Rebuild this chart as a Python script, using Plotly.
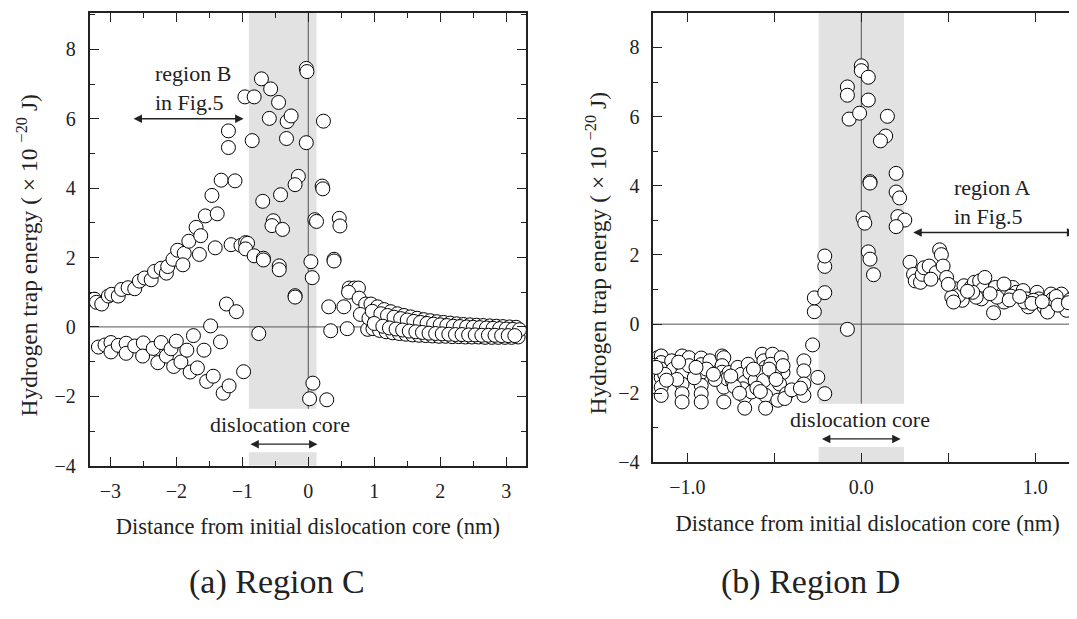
import plotly.graph_objects as go

# ---------------- Region C data (left panel) ----------------
regionC_x = [
    -3.24, -3.21, -3.13, -3.03, -2.98, -2.88, -2.83, -2.73, -2.63, -2.56, -2.48, -2.38,
    -2.33, -2.23, -2.15, -2.13, -2.05, -1.98, -1.88, -1.90, -1.81, -1.70, -1.63, -1.65,
    -1.56, -1.41, -1.38, -1.46, -1.32, -1.11, -1.17, -1.02,
    -1.21, -1.21, -0.96, -0.82, -0.71, -0.57, -0.45, -0.59, -0.32, -0.26, 0.23, -0.85,
    -0.03, -0.33, -0.03, -0.02, -0.15, -0.20, 0.21, 0.22, -0.69, -0.42, -0.53, -0.55,
    -0.39, 0.10, 0.125, 0.47, 0.48, -0.95, -0.92, -0.95, -0.82, -0.68, -0.68, -0.44,
    -0.44, 0.04, 0.06, 0.39, 0.39, -0.20, -0.20, 0.62, 0.70, 0.76, 0.61, 0.77, 0.87,
    -1.24, -1.09, 0.31, 0.54, 0.79,
    -1.48, -0.75, 0.34, 0.59, 0.90, 0.07, 0.02, 0.28, -0.98,
    -3.18, -3.08, -2.99, -2.99, -2.88, -2.76, -2.76, -2.63, -2.50, -2.51, -2.35, -2.23,
    -2.28, -2.15, -2.08, -2.00, -2.04, -1.93, -1.84, -1.74, -1.79, -1.68, -1.58, -1.54,
    -1.44, -1.33, -1.29, -1.20,
    0.95, 1.05, 1.15, 1.25, 1.35, 1.45, 1.55, 1.65, 1.75, 1.85, 1.95, 2.05, 2.15, 2.25,
    2.35, 2.45, 2.55, 2.65, 2.75, 2.85, 2.95, 3.05, 3.15,
    0.92, 1.02, 1.12, 1.22, 1.32, 1.42, 1.52, 1.62, 1.72, 1.82, 1.92, 2.02, 2.12, 2.22,
    2.32, 2.42, 2.52, 2.62, 2.72, 2.82, 2.92, 3.02, 3.12,
    0.98, 1.08, 1.18, 1.28, 1.38, 1.48, 1.58, 1.68, 1.78, 1.88, 1.98, 2.08, 2.18, 2.28,
    2.38, 2.48, 2.58, 2.68, 2.78, 2.88, 2.98, 3.08, 3.18,
    0.97, 1.10, 1.20, 1.30, 1.40, 1.50, 1.60, 1.70, 1.80, 1.90, 2.00, 2.10, 2.20, 2.30,
    2.40, 2.50, 2.60, 2.70, 2.80, 2.90, 3.00, 3.10, 3.20,
    1.00, 1.13, 1.23, 1.33, 1.43, 1.53, 1.63, 1.73, 1.83, 1.93, 2.03, 2.13, 2.23, 2.33,
    2.43, 2.53, 2.63, 2.73, 2.83, 2.93, 3.03, 3.13,
]
regionC_y = [
    0.80, 0.71, 0.66, 0.89, 0.94, 0.89, 1.08, 1.13, 1.10, 1.32, 1.41, 1.36,
    1.60, 1.69, 1.55, 1.74, 1.95, 2.21, 2.12, 1.79, 2.47, 2.87, 2.63, 2.09,
    3.20, 2.28, 3.26, 3.79, 4.23, 4.21, 2.37, 2.35,
    5.65, 5.17, 6.63, 6.63, 7.15, 6.86, 6.47, 6.01, 5.92, 6.08, 5.93, 5.37,
    5.31, 5.43, 7.45, 7.36, 4.34, 4.10, 4.06, 3.98, 3.62, 3.81, 3.06, 2.92,
    2.81, 3.09, 3.04, 3.13, 2.91, 2.43, 2.41, 2.25, 2.05, 1.98, 1.93, 1.76,
    1.65, 1.88, 1.42, 1.95, 1.90, 0.90, 0.86, 1.12, 1.12, 1.12, 1.00, 0.83, 0.66,
    0.66, 0.44, 0.58, 0.58, 0.36,
    0.03, -0.19, -0.11, -0.05, -0.07, -1.62, -2.07, -2.10, -1.29,
    -0.58, -0.52, -0.45, -0.72, -0.53, -0.47, -0.76, -0.55, -0.46, -0.84, -0.62, -0.45,
    -1.03, -0.84, -0.63, -0.41, -1.14, -1.01, -0.67, -0.25, -1.30, -1.18, -0.67, -1.57,
    -1.42, -0.43, -1.91, -1.70,
    0.66, 0.58, 0.50, 0.44, 0.38, 0.33, 0.29, 0.25, 0.21, 0.18, 0.15, 0.13, 0.11, 0.09,
    0.07, 0.06, 0.05, 0.04, 0.03, 0.02, 0.01, 0.00, -0.01,
    0.25, 0.20, 0.15, 0.12, 0.08, 0.05, 0.03, 0.00, -0.02, -0.04, -0.05, -0.07, -0.08, -0.09,
    -0.10, -0.11, -0.12, -0.12, -0.13, -0.14, -0.14, -0.15, -0.15,
    -0.05, -0.10, -0.14, -0.17, -0.19, -0.21, -0.23, -0.24, -0.25, -0.26, -0.27, -0.27, -0.28, -0.28,
    -0.29, -0.29, -0.29, -0.30, -0.30, -0.30, -0.30, -0.30, -0.29,
    0.45, 0.38, 0.33, 0.28, 0.24, 0.20, 0.16, 0.13, 0.10, 0.08, 0.06, 0.04, 0.02, 0.01,
    0.00, -0.01, -0.02, -0.03, -0.04, -0.05, -0.06, -0.07, -0.08,
    0.10, 0.02, -0.03, -0.06, -0.09, -0.12, -0.14, -0.16, -0.18, -0.19, -0.20, -0.21, -0.22, -0.22,
    -0.23, -0.23, -0.24, -0.24, -0.24, -0.25, -0.25, -0.25,
]

# ---------------- Region D data (right panel) ----------------
regionD_x = [
    -1.17, -1.15, -1.15, -1.15, -1.15, -1.15, -1.15, -1.09, -1.08,
    -1.03, -1.03, -1.03, -1.03, -1.03, -1.03, -0.99, -0.99,
    -0.92, -0.92, -0.92, -0.92, -0.92, -0.92, -0.87,
    -0.80, -0.79, -0.80, -0.80, -0.78, -0.79, -0.79, -0.76, -0.77, -0.74,
    -0.71, -0.69, -0.67, -0.68, -0.67, -0.67, -0.65, -0.64, -0.61, -0.63,
    -0.57, -0.56, -0.55, -0.57, -0.56, -0.51, -0.52, -0.55, -0.55,
    -0.46, -0.45, -0.47, -0.48, -0.43, -0.44, -0.33, -0.33, -0.33, -0.33,
    -0.25, -0.28, -0.21,
    -1.13, -1.06, -0.96, -0.89, -0.84, -0.73, -0.60, -0.50, -0.40, -0.53,
    -1.18, -1.12, -1.05, -0.95, -0.85, -0.75, -0.70, -0.62, -0.58, -0.49, -0.45, -0.35,
    -0.27, -0.27, -0.21, -0.21, -0.21, -0.08,
    0.00, 0.00, 0.04, -0.08, -0.08, 0.04, -0.07, -0.01, 0.15, 0.14, 0.11, 0.20, 0.20, 0.22,
    0.05, 0.05, 0.01, 0.02, 0.21, 0.25, 0.20, 0.04, 0.05, 0.07,
    0.28, 0.30, 0.31, 0.34, 0.35, 0.36, 0.39, 0.43, 0.45, 0.46, 0.47, 0.49,
    0.54, 0.58, 0.56, 0.59, 0.63, 0.65, 0.68, 0.70, 0.71, 0.69, 0.76,
    0.77, 0.82, 0.82, 0.87, 0.89, 0.93, 0.95, 0.96, 1.01, 1.02, 1.05, 1.07,
    1.09, 1.10, 1.15, 1.17, 1.18, 1.22, 1.25, 1.24, 0.52, 0.53, 0.66, 0.64,
    0.78, 0.99, 0.94, 0.82, 0.86, 1.12, 1.20,
    0.40, 0.50, 0.61, 0.74, 0.85, 0.91, 0.98, 1.04, 1.13, 1.19, 1.27, 1.27,
]
regionD_y = [
    -0.97, -0.92, -1.11, -1.30, -1.54, -1.82, -2.06, -1.06, -1.30,
    -0.92, -1.21, -1.45, -1.73, -2.01, -2.25, -0.97, -1.20,
    -0.98, -1.17, -1.40, -1.77, -2.01, -2.25, -1.06,
    -0.92, -0.97, -1.20, -1.39, -1.53, -1.82, -2.25, -1.40, -1.58, -1.63,
    -1.25, -1.45, -1.68, -1.87, -2.10, -2.43, -1.16, -1.40, -1.63, -1.96,
    -0.87, -1.06, -1.25, -1.40, -1.63, -0.87, -1.16, -2.06, -2.43,
    -0.97, -1.40, -1.73, -2.20, -2.01, -2.15, -1.06, -1.35, -1.73, -2.06,
    -1.54, -0.60, -2.01,
    -1.45, -1.60, -1.55, -1.30, -1.60, -1.80, -1.85, -1.45, -1.90, -1.30,
    -1.25, -1.62, -1.10, -1.25, -1.45, -1.50, -2.00, -1.30, -1.95, -1.60, -1.20, -1.85,
    0.36, 0.76, 0.91, 1.67, 1.97, -0.15,
    7.47, 7.33, 7.14, 6.86, 6.62, 6.48, 5.93, 6.10, 6.01, 5.44, 5.30, 4.36, 3.82, 3.65,
    4.12, 4.08, 3.07, 2.92, 3.11, 3.01, 2.82, 2.09, 1.88, 1.43,
    1.79, 1.44, 1.25, 1.21, 1.44, 1.63, 1.68, 1.49, 2.15, 2.01, 1.68, 1.35,
    1.02, 0.69, 0.83, 1.11, 1.06, 1.21, 1.25, 1.02, 1.35, 0.73, 0.33,
    1.06, 0.92, 0.64, 1.06, 0.92, 0.97, 0.73, 0.50, 0.92, 0.73, 0.50, 0.35,
    0.87, 0.73, 0.87, 0.59, 0.40, 0.78, 0.35, 0.83, 0.78, 0.64, 0.78, 0.92,
    0.78, 0.69, 0.64, 1.16, 0.81, 0.80, 0.70,
    1.30, 1.15, 0.95, 0.88, 0.70, 0.80, 0.60, 0.65, 0.55, 0.62, 0.55, 0.82,
]

x_ticks_C = [-3, -2, -1, 0, 1, 2, 3]
x_ticks_D = [-1.0, -0.5, 0.0, 0.5, 1.0]
x_labels_D = ["−1.0", "", "0.0", "", "1.0"]

FONT = "Liberation Serif, Times New Roman, serif"
INK = "#222222"
BAND = "#e2e2e2"

fig = go.Figure()
marker = dict(symbol="circle", size=14, color="white", line=dict(color="black", width=1))
fig.add_trace(go.Scatter(x=regionC_x, y=regionC_y, mode="markers", marker=marker,
                         xaxis="x", yaxis="y", showlegend=False, hoverinfo="skip"))
fig.add_trace(go.Scatter(x=regionD_x, y=regionD_y, mode="markers", marker=marker,
                         xaxis="x2", yaxis="y2", showlegend=False, hoverinfo="skip"))

W, H = 1077, 619
common_axis = dict(showline=True, linecolor=INK, linewidth=2, mirror="ticks",
                   ticks="inside", ticklen=9, tickwidth=1.3, tickcolor=INK,
                   showgrid=False, zeroline=False,
                   tickfont=dict(family=FONT, size=20, color=INK))
ytitle = "Hydrogen trap energy ( × 10 <sup>−20</sup> J)"
xtitle = "Distance from initial dislocation core (nm)"

fig.update_layout(
    width=W, height=H, autosize=False,
    margin=dict(l=0, r=0, t=0, b=0),
    paper_bgcolor="white", plot_bgcolor="white",
    xaxis=dict(common_axis, domain=[82 / W, 519 / W], range=[-3.31, 3.30],
               tickvals=x_ticks_C, anchor="y", ticklabelstandoff=6,
               minor=dict(dtick=0.5, ticks="inside", ticklen=5, tickcolor=INK, tickwidth=1.3),
               title=dict(text=xtitle, font=dict(family=FONT, size=22.5, color=INK), standoff=18)),
    yaxis=dict(common_axis, domain=[(H - 466) / H, (H - 5) / H], range=[-4, 9.05],
               dtick=2, tick0=0, anchor="x", ticklabelstandoff=8,
               minor=dict(dtick=1, ticks="inside", ticklen=5, tickcolor=INK, tickwidth=1.3)),
    xaxis2=dict(common_axis, domain=[645.7 / W, 1.0], range=[-1.20, 1.274],
                tickvals=x_ticks_D, ticktext=x_labels_D, anchor="y2", ticklabelstandoff=6,
                title=dict(text=xtitle, font=dict(family=FONT, size=22.5, color=INK), standoff=18)),
    yaxis2=dict(common_axis, domain=[(H - 462.7) / H, (H - 5) / H], range=[-4, 9.0],
                dtick=2, tick0=0, anchor="x2", ticklabelstandoff=7,
                minor=dict(dtick=1, ticks="inside", ticklen=5, tickcolor=INK, tickwidth=1.3)),
)

shapes = []
# Left panel: dislocation core band (split around label)
shapes += [
    dict(type="rect", xref="x", yref="y", x0=-0.90, x1=0.125, y0=-2.36, y1=9.05,
         fillcolor=BAND, line=dict(width=0), layer="below"),
    dict(type="rect", xref="x", yref="y", x0=-0.90, x1=0.125, y0=-4, y1=-3.61,
         fillcolor=BAND, line=dict(width=0), layer="below"),
    dict(type="line", xref="x", yref="y", x0=0, x1=0, y0=-2.36, y1=9.05,
         line=dict(color="#555555", width=1), layer="below"),
    dict(type="line", xref="x", yref="y", x0=-3.31, x1=3.30, y0=0, y1=0,
         line=dict(color="#555555", width=1), layer="below"),
]
# Right panel
shapes += [
    dict(type="rect", xref="x2", yref="y2", x0=-0.245, x1=0.245, y0=-2.30, y1=9.0,
         fillcolor=BAND, line=dict(width=0), layer="below"),
    dict(type="rect", xref="x2", yref="y2", x0=-0.245, x1=0.245, y0=-4, y1=-3.55,
         fillcolor=BAND, line=dict(width=0), layer="below"),
    dict(type="line", xref="x2", yref="y2", x0=0, x1=0, y0=-2.30, y1=9.0,
         line=dict(color="#555555", width=1), layer="below"),
    dict(type="line", xref="x2", yref="y2", x0=-1.20, x1=1.274, y0=0, y1=0,
         line=dict(color="#555555", width=1), layer="below"),
]
fig.update_layout(shapes=shapes)

def darrow(xr, yr, x0, x1, y):
    return dict(xref=xr, yref=yr, axref=xr, ayref=yr, x=x1, y=y, ax=x0, ay=y,
                text="", showarrow=True, arrowhead=2, startarrowhead=2, arrowside="end+start",
                arrowsize=1.3, startarrowsize=1.3, arrowwidth=1.3, arrowcolor=INK)

annots = [
    darrow("x", "y", -2.67, -0.98, 6.0),
    darrow("x", "y", -0.90, 0.14, -3.38),
    darrow("x2", "y2", -0.235, 0.226, -3.32),
    darrow("x2", "y2", 0.29, 1.23, 2.65),
    dict(xref="x", yref="y", x=-2.36, y=6.88, text="region B<br>in Fig.5", showarrow=False,
         xanchor="left", yanchor="middle", align="left",
         font=dict(family=FONT, size=22, color=INK)),
    dict(xref="x", yref="y", x=-0.43, y=-2.82, text="dislocation core", showarrow=False,
         font=dict(family=FONT, size=22, color=INK)),
    dict(xref="x2", yref="y2", x=-0.01, y=-2.75, text="dislocation core", showarrow=False,
         font=dict(family=FONT, size=22, color=INK)),
    dict(xref="x2", yref="y2", x=0.52, y=3.53, text="region A<br>in Fig.5", showarrow=False,
         xanchor="left", yanchor="middle", align="left",
         font=dict(family=FONT, size=22, color=INK)),
    # y-axis titles
    dict(xref="paper", yref="paper", x=19 / W, y=1 - 252 / H, text=ytitle, textangle=-90,
         showarrow=False, xanchor="center", yanchor="middle",
         font=dict(family=FONT, size=23.5, color=INK)),
    dict(xref="paper", yref="paper", x=589 / W, y=1 - 250 / H, text=ytitle, textangle=-90,
         showarrow=False, xanchor="center", yanchor="middle",
         font=dict(family=FONT, size=23.5, color=INK)),
    # panel captions
    dict(xref="paper", yref="paper", x=269 / W, y=1 - 584 / H, text="(a) Region C",
         showarrow=False, xanchor="center", yanchor="middle",
         font=dict(family=FONT, size=34, color=INK)),
    dict(xref="paper", yref="paper", x=804 / W, y=1 - 584 / H, text="(b) Region D",
         showarrow=False, xanchor="center", yanchor="middle",
         font=dict(family=FONT, size=34, color=INK)),
]
fig.update_layout(annotations=annots)

fig.write_html("out.html")
